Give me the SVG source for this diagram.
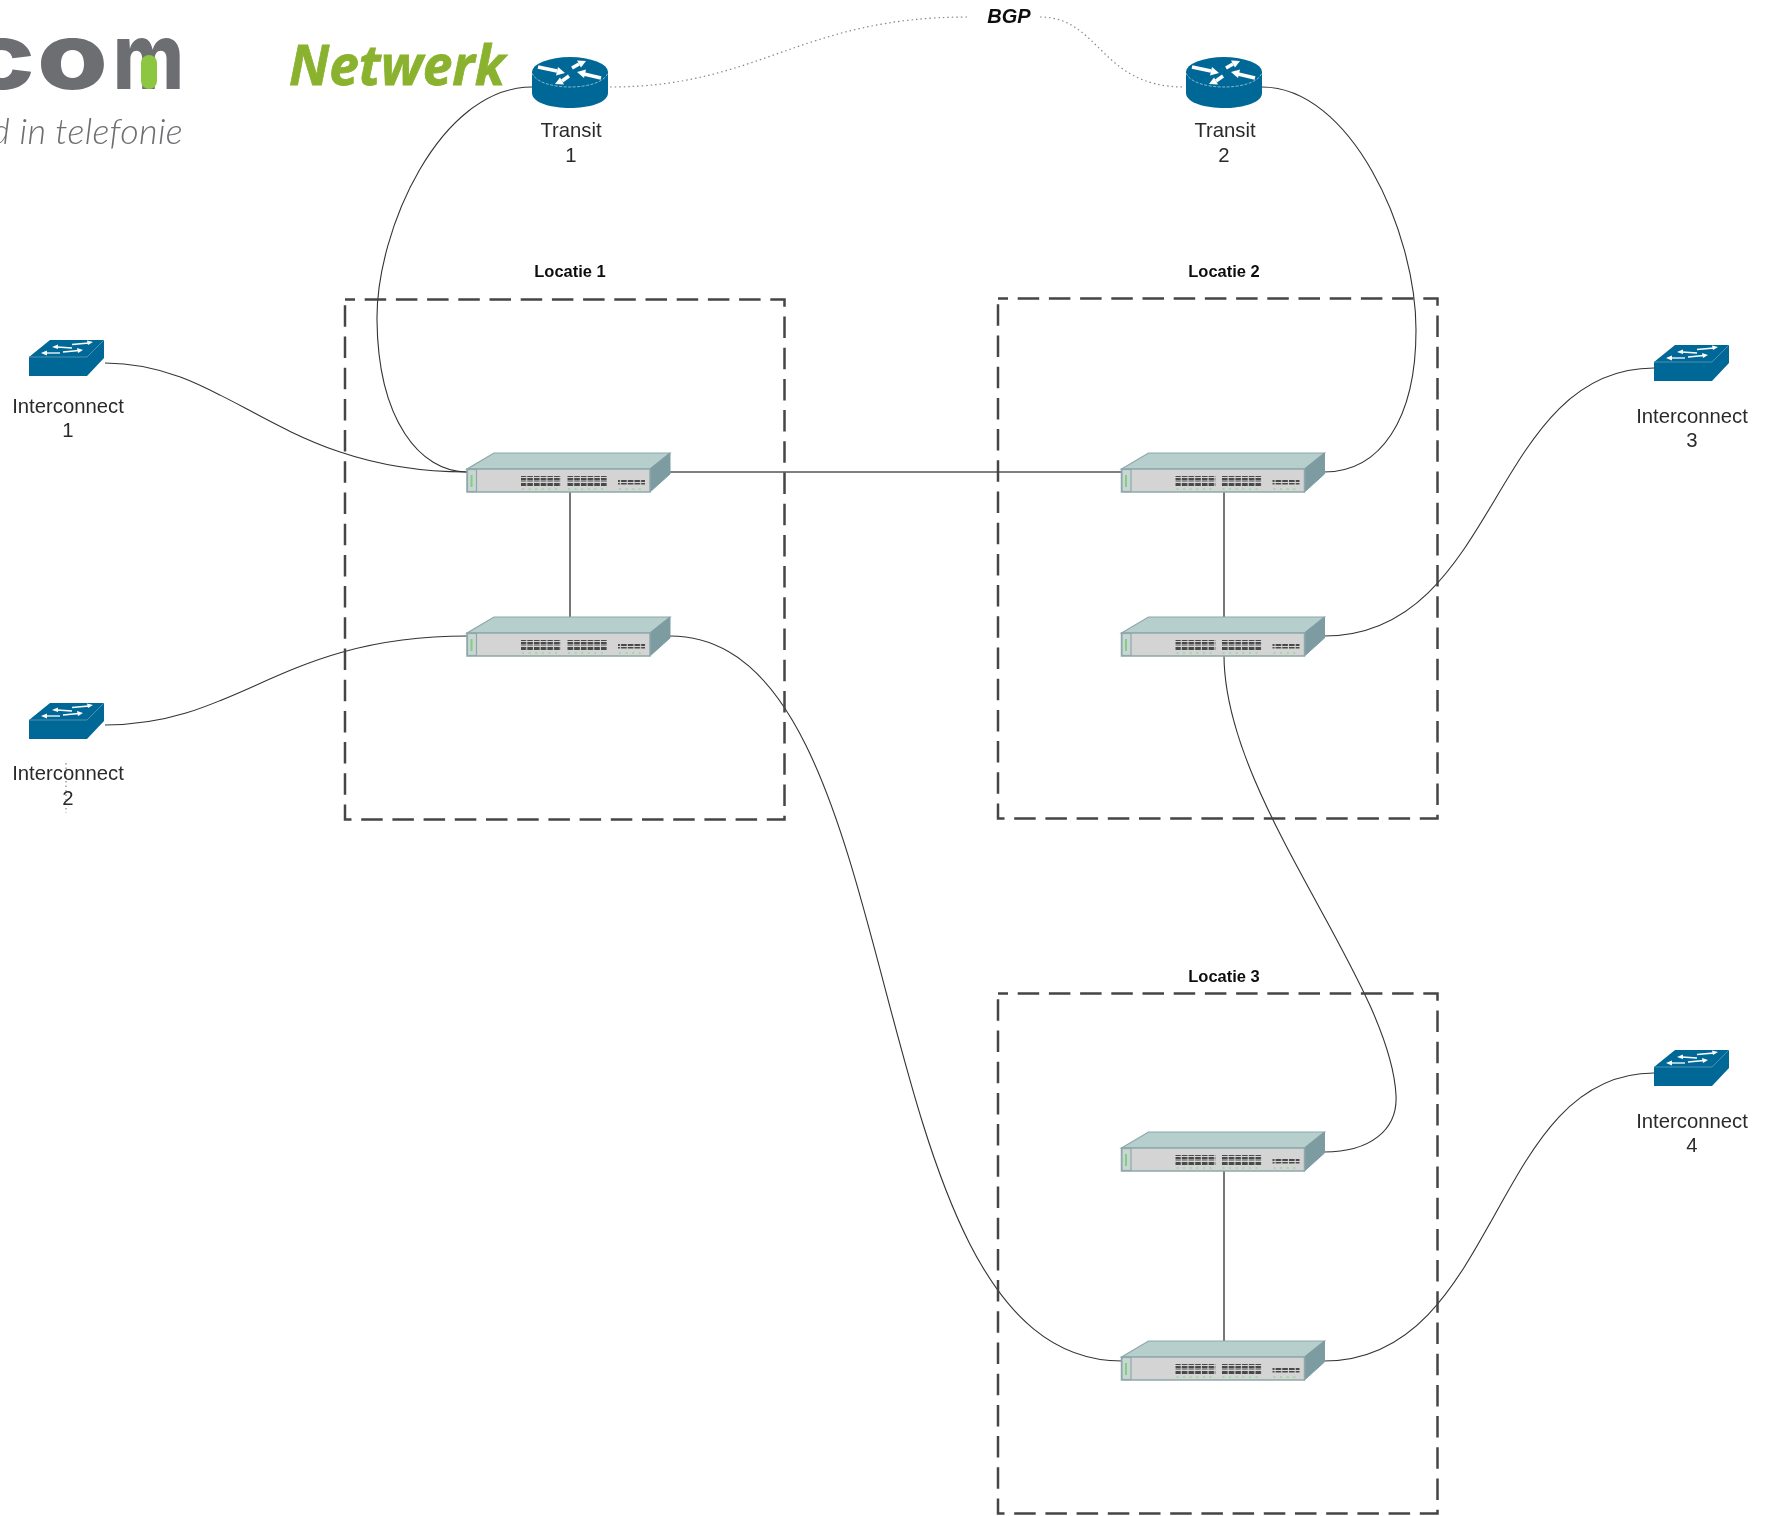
<svg xmlns="http://www.w3.org/2000/svg" width="1772" height="1516" viewBox="0 0 1772 1516">
<style>
.lbl{font-family:"Liberation Sans",Arial,sans-serif;font-size:20.300px;fill:#2b2b2b;text-anchor:middle}
.loc{font-family:"Liberation Sans",Arial,sans-serif;font-size:16.500px;font-weight:bold;fill:#111;text-anchor:middle}
.box{fill:none;stroke:#444;stroke-width:2.500;stroke-dasharray:21.500 9.700;stroke-dashoffset:11.500}
.c{fill:none;stroke:#333;stroke-width:1.100}
.s{fill:none;stroke:#555;stroke-width:1.600}
.d{fill:none;stroke:#888;stroke-width:1.200;stroke-dasharray:1.500 3}
.ar{fill:#fff}
.al{stroke:#fff;stroke-width:1.300;fill:none}
.ra{stroke:#fff;stroke-width:3.500;fill:none}
</style>
<defs>
<pattern id="ports" width="6.700" height="5" patternUnits="userSpaceOnUse"><rect width="5.600" height="4" fill="#4a4a4a"/></pattern>
<filter id="soft" x="0" y="0" width="1772" height="1516" filterUnits="userSpaceOnUse"><feGaussianBlur stdDeviation="0.550"/></filter>
<g id="sw">
<polygon points="0,16 27,0 203,0 183,16" fill="#b7cfcc" stroke="#8ea8ab" stroke-width="1.200"/>
<polygon points="183,16 203,0 203,21 183,39" fill="#7d9ca2" stroke="#7d9ca2" stroke-width="1"/>
<rect x="0" y="16" width="183" height="23" fill="#d4d4d4" stroke="#8ea8ab" stroke-width="1.500"/>
<rect x="0.500" y="16.500" width="9" height="22" fill="#c9d6d3" stroke="#8ea8ab" stroke-width="1.200"/>
<rect x="3.500" y="22" width="2" height="12" fill="#7fd07f"/>
<rect x="54" y="23" width="40" height="4.500" fill="url(#ports)"/><rect x="54" y="28.500" width="40" height="4.500" fill="url(#ports)"/>
<rect x="100" y="23" width="40" height="4.500" fill="url(#ports)"/><rect x="100" y="28.500" width="40" height="4.500" fill="url(#ports)"/>
<rect x="151" y="27" width="27" height="4.500" fill="url(#ports)"/>
<path d="M55 36h38M101 36h38M152 36h25" stroke="#8fdc8f" stroke-width="1.500" stroke-dasharray="2 4.600" fill="none"/>
</g>
<g id="l2">
<path d="M0 17 L21 0 L75 0 L75 18 L58 36 L0 36 Z" fill="#036897"/>
<path d="M0 17 H58 L75 0" fill="none" stroke="#5a9cbc" stroke-width="0.800"/>
<path class="al" d="M43 4.500 L60 3"/><polygon class="ar" points="64,2 58,0.500 59,5"/>
<path class="al" d="M28 7 L43 8"/><polygon class="ar" points="23,7 29,4.500 29,9"/>
<path class="al" d="M34 12 L50 10.500"/><polygon class="ar" points="54,10 48,8 49,13"/>
<path class="al" d="M17 13 L31 13"/><polygon class="ar" points="12,13 18,10.500 18,15.500"/>
</g>
<g id="rt">
<path d="M-38 15 V36 C-38 46 -18 51 0 51 C18 51 38 46 38 36 V15 Z" fill="#036897"/>
<ellipse cx="0" cy="15" rx="38" ry="15" fill="#036897"/>
<path d="M-38 16 C-34 26 -16 30 0 30 C16 30 34 26 38 16" fill="none" stroke="#8fc0d8" stroke-width="0.900" stroke-dasharray="3 1.500"/>
<path class="ra" d="M-32 10 L-13 14"/><polygon class="ar" points="-5,16 -14,18.500 -12,10"/>
<path class="ra" d="M2 11 L9 7"/><polygon class="ar" points="16,4 7,3.500 11,10.500"/>
<path class="ra" d="M31 21 L14 17"/><polygon class="ar" points="7,15 16,12.500 14,21"/>
<path class="ra" d="M-1 19 L-8 24"/><polygon class="ar" points="-15,27 -6,27.500 -10,20.500"/>
</g>
</defs>
<g id="diagram" filter="url(#soft)">
<g id="logo">
<text y="89" font-family="Inter,'Liberation Sans',sans-serif" font-weight="800" font-size="92" fill="#6d6e71"><tspan x="-35" textLength="70" lengthAdjust="spacingAndGlyphs">c</tspan><tspan x="37" textLength="71" lengthAdjust="spacingAndGlyphs">o</tspan><tspan x="113" textLength="71" lengthAdjust="spacingAndGlyphs">m</tspan></text>
<rect x="141" y="55" width="16" height="34" rx="8" fill="#8dc63f"/>
<text x="183" y="144" text-anchor="end" font-family="Lato,'Open Sans',sans-serif" font-weight="300" font-style="italic" font-size="36" letter-spacing="0.300" fill="#6d6e71">d in telefonie</text>
</g>
<text id="title" x="289" y="85" font-family="'Open Sans','Noto Sans',sans-serif" font-weight="700" font-style="italic" font-size="56" fill="#8ab22e" stroke="#8ab22e" stroke-width="0.800" textLength="216" lengthAdjust="spacingAndGlyphs">Netwerk</text>

<g id="connectors">
<path class="c" d="M532 87 C440 87 376 230 377 320 C378 420 420 472 467 472"/>
<path class="c" d="M1262 87 C1350 87 1416 230 1416 330 C1416 420 1380 472 1324 472"/>
<path class="c" d="M105 363 C230 363 280 472 467 472"/>
<path class="c" d="M105 725 C240 725 280 636 467 636"/>
<path class="s" d="M670 472 H1122"/>
<path class="s" d="M570 492 V617"/>
<path class="s" d="M1224 492 V617"/>
<path class="s" d="M1224 1171 V1341"/>
<path class="c" d="M670 636 C920 636 850 1361 1122 1361"/>
<path class="c" d="M1224 655 C1224 800 1390 980 1396 1095 C1398 1130 1370 1152 1324 1152"/>
<path class="c" d="M1324 636 C1500 636 1490 368 1654 368"/>
<path class="c" d="M1324 1361 C1500 1361 1490 1073 1654 1073"/>
<path class="d" d="M610 87 C760 87 800 17 968 17"/>
<path class="d" d="M1040 17 C1100 17 1100 87 1184 87"/>
<path class="d" d="M66 763 V813"/>
</g>

<g id="loc1"><rect class="box" x="345" y="299.500" width="439.500" height="520"/><text class="loc" x="570" y="277">Locatie 1</text></g>
<g id="loc2"><rect class="box" x="998" y="298.500" width="439.500" height="520"/><text class="loc" x="1224" y="277">Locatie 2</text></g>
<g id="loc3"><rect class="box" x="998" y="993.500" width="439.500" height="520"/><text class="loc" x="1224" y="982">Locatie 3</text></g>

<g id="sw1a"><use href="#sw" x="467" y="453"/></g>
<g id="sw1b"><use href="#sw" x="467" y="617"/></g>
<g id="sw2a"><use href="#sw" x="1121.500" y="453"/></g>
<g id="sw2b"><use href="#sw" x="1121.500" y="617"/></g>
<g id="sw3a"><use href="#sw" x="1121.500" y="1132"/></g>
<g id="sw3b"><use href="#sw" x="1121.500" y="1341"/></g>

<g id="transit1"><use href="#rt" x="570" y="57"/><text class="lbl" x="571" y="137">Transit</text><text class="lbl" x="571" y="162">1</text></g>
<g id="transit2"><use href="#rt" x="1224" y="57"/><text class="lbl" x="1225" y="137">Transit</text><text class="lbl" x="1224" y="162">2</text></g>
<g id="ic1"><use href="#l2" x="29" y="340"/><text class="lbl" x="68" y="413">Interconnect</text><text class="lbl" x="68" y="437">1</text></g>
<g id="ic2"><use href="#l2" x="29" y="703"/><text class="lbl" x="68" y="780">Interconnect</text><text class="lbl" x="68" y="805">2</text></g>
<g id="ic3"><use href="#l2" x="1654" y="345"/><text class="lbl" x="1692" y="423">Interconnect</text><text class="lbl" x="1692" y="447">3</text></g>
<g id="ic4"><use href="#l2" x="1654" y="1050"/><text class="lbl" x="1692" y="1128">Interconnect</text><text class="lbl" x="1692" y="1152">4</text></g>
<text id="bgp" x="1009" y="23" font-family="'Liberation Sans',Arial,sans-serif" font-weight="bold" font-style="italic" font-size="20" fill="#111" text-anchor="middle">BGP</text>
</g>
</svg>
